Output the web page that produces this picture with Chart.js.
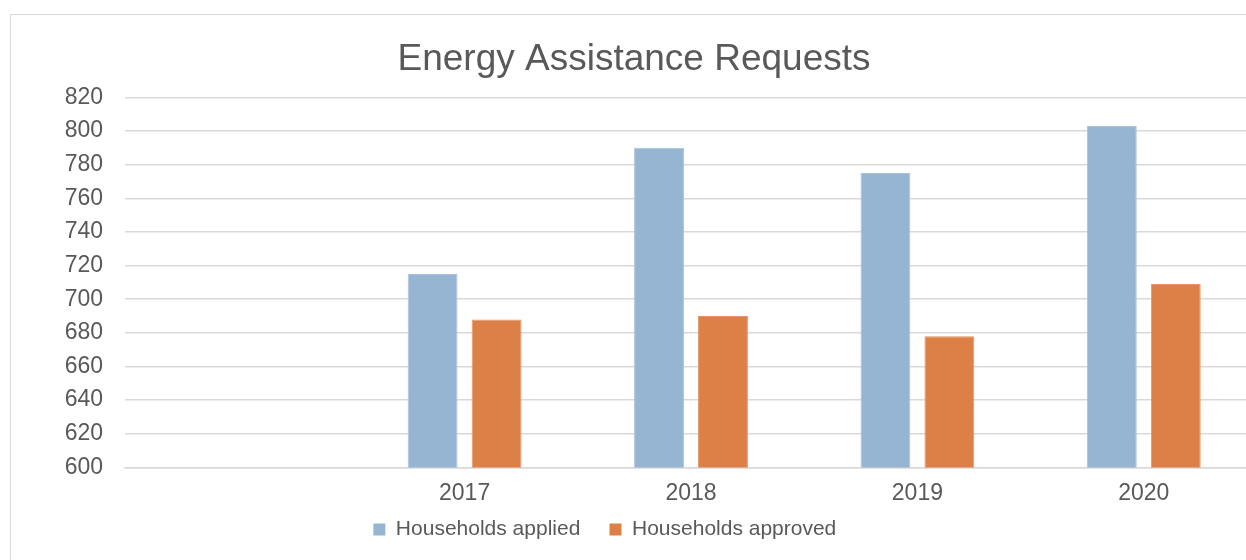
<!DOCTYPE html>
<html>
<head>
<meta charset="utf-8">
<script src="https://cdn.jsdelivr.net/npm/chart.js@4.4.1/dist/chart.umd.min.js"></script>
<style>
  html, body { margin: 0; padding: 0; background: #fff; overflow: hidden; }
  #box {
    position: absolute; left: 10px; top: 14px;
    width: 1260px; height: 600px;
    border: 1px solid #d9d9d9;
  }
  #wrap { position: absolute; left: 0; top: 0; width: 1246px; height: 560px; }
</style>
</head>
<body>
<div id="box">
  <div id="wrap"><canvas id="energyChart"></canvas></div>
</div>
<script>
// categories (first slot is empty in the original sheet)
const years = ["", "2017", "2018", "2019", "2020"];
const applied = [null, 715, 790, 775, 803];
const approved = [null, 688, 690, 678, 709];
const yTicks = [600, 620, 640, 660, 680, 700, 720, 740, 760, 780, 800, 820];

const font = "'Liberation Sans', Arial, sans-serif";
const textColor = "#595959";

const ctx = document.getElementById("energyChart").getContext("2d");
new Chart(ctx, {
  type: "bar",
  data: {
    labels: years,
    datasets: [
      {
        label: "Households applied",
        data: applied,
        backgroundColor: "#95b5d3",
        borderColor: "#a9c3dc",
        borderWidth: 1,
        categoryPercentage: 0.565,
        barPercentage: 0.78
      },
      {
        label: "Households approved",
        data: approved,
        backgroundColor: "#dd8047",
        borderColor: "#e39366",
        borderWidth: 1,
        categoryPercentage: 0.565,
        barPercentage: 0.78
      }
    ]
  },
  options: {
    responsive: true,
    maintainAspectRatio: false,
    animation: false,
    layout: { padding: { left: 0, right: 0, top: 0, bottom: 25 } },
    plugins: {
      title: {
        display: true,
        text: "Energy Assistance Requests",
        color: textColor,
        font: { family: font, size: 37, weight: "normal" },
        padding: { top: 23, bottom: 15 }
      },
      legend: {
        position: "bottom",
        labels: {
          color: textColor,
          font: { family: font, size: 21 },
          boxWidth: 12,
          boxHeight: 12,
          padding: 0,
          // widen the labels a little so spacing and offset follow the original
          generateLabels: function (chart) {
            const items = Chart.defaults.plugins.legend.labels.generateLabels(chart);
            items[0].text += "     ";
            items[items.length - 1].text += "          ";
            items.forEach(function (it) { it.lineWidth = 0; });
            return items;
          }
        }
      },
      tooltip: { enabled: false }
    },
    scales: {
      x: {
        grid: { display: false, drawTicks: false },
        border: { display: true, color: "#d9d9d9", width: 1.5 },
        ticks: { color: textColor, font: { family: font, size: 23 }, padding: 12 }
      },
      y: {
        min: 600,
        max: 820,
        afterFit: function (scale) { scale.width = 114; },
        afterBuildTicks: function (scale) {
          scale.ticks = yTicks.map(function (v) { return { value: v }; });
        },
        grid: { color: "#d9d9d9", lineWidth: 1.5, drawTicks: false },
        border: { display: false },
        ticks: { color: textColor, font: { family: font, size: 23 }, padding: 22 }
      }
    }
  }
});
</script>
</body>
</html>
